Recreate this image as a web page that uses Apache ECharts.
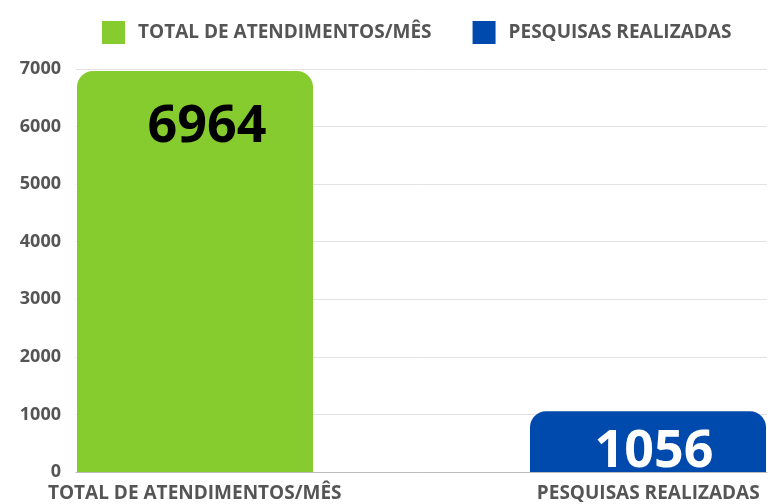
<!DOCTYPE html>
<html>
<head>
<meta charset="utf-8">
<script src="https://cdn.jsdelivr.net/npm/echarts@6/dist/echarts.min.js"></script>
<style>
  html, body { margin: 0; padding: 0; background: #fff; }
  #chart { width: 773px; height: 504px; }
</style>
</head>
<body>
<div id="chart"></div>
<script>
var categories = ['TOTAL DE ATENDIMENTOS/MÊS', 'PESQUISAS REALIZADAS'];
var atendimentos = [6964, null];
var pesquisas = [null, 1056];
var yTicks = { min: 0, max: 7000, interval: 1000 };

var chart = echarts.init(document.getElementById('chart'));

var option = {
    animation: false,
    textStyle: { fontFamily: 'Open Sans' },
    legend: {
        left: 97,
        top: 16,
        itemWidth: 23,
        itemHeight: 23,
        itemGap: 41,
        icon: 'rect',
        textStyle: {
            fontSize: 19,
            fontWeight: 'bold',
            color: '#555',
            padding: [0, 0, 0, 8]
        }
    },
    grid: {
        left: 76,
        right: 6,
        top: 69,
        bottom: 32
    },
    xAxis: {
        type: 'category',
        data: categories,
        axisTick: { show: false },
        axisLine: { lineStyle: { color: '#bbb' } },
        axisLabel: {
            interval: 0,
            margin: 12,
            formatter: function (v, i) {
                return i === 0 ? '{a|' + v + '}' : '{b|' + v + '}';
            },
            rich: {
                a: { fontSize: 19, fontWeight: 'bold', color: '#555', fontFamily: 'Open Sans', padding: [0, 108, 0, 0] },
                b: { fontSize: 19, fontWeight: 'bold', color: '#555', fontFamily: 'Open Sans', padding: [0, 0, 0, 108] }
            }
        }
    },
    yAxis: {
        type: 'value',
        min: yTicks.min,
        max: yTicks.max,
        interval: yTicks.interval,
        axisLine: { show: false },
        axisTick: { show: false },
        splitLine: { lineStyle: { color: '#e3e3e3' } },
        axisLabel: {
            margin: 15,
            fontSize: 18,
            fontWeight: 'bold',
            color: '#555',
            formatter: function (v) { return String(v); }
        }
    },
    series: [
        {
            name: categories[0],
            type: 'bar',
            data: atendimentos,
            barWidth: 236,
            barGap: '-54.45%',
            itemStyle: { color: '#86cc2e', borderRadius: [16, 16, 0, 0] },
            label: {
                show: true,
                position: 'insideTop',
                distance: 30,
                offset: [12, 0],
                fontSize: 52,
                fontWeight: 'bold',
                color: '#000'
            }
        },
        {
            name: categories[1],
            type: 'bar',
            data: pesquisas,
            barWidth: 236,
            itemStyle: { color: '#004aad', borderRadius: [16, 16, 0, 0] },
            label: {
                show: true,
                position: 'insideTop',
                distance: 15,
                offset: [6, 0],
                fontSize: 52,
                fontWeight: 'bold',
                color: '#fff'
            }
        }
    ]
};

chart.setOption(option);
</script>
</body>
</html>
